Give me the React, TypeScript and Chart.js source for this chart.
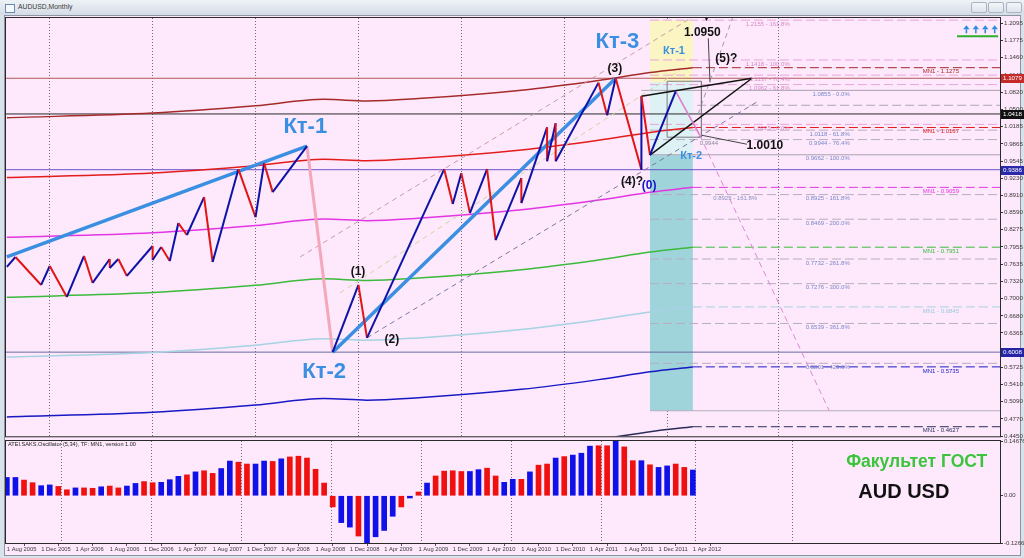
import React, { useEffect, useRef } from "react";
import { Chart, registerables } from "chart.js";
Chart.register(...registerables);

// ---------------- data ----------------
const labelMonths = [0, 4, 8, 12, 16, 20, 24, 28, 32, 36, 40, 44, 48, 52, 56, 60, 64, 68, 72, 76, 80];
const monthLabels = ["1 Aug 2005", "1 Dec 2005", "1 Apr 2006", "1 Aug 2006", "1 Dec 2006", "1 Apr 2007", "1 Aug 2007", "1 Dec 2007", "1 Apr 2008", "1 Aug 2008", "1 Dec 2008", "1 Apr 2009", "1 Aug 2009", "1 Dec 2009", "1 Apr 2010", "1 Aug 2010", "1 Dec 2010", "1 Apr 2011", "1 Aug 2011", "1 Dec 2011", "1 Apr 2012"];
const gridMonths = [5, 17, 29, 41, 53, 65, 77, 90];
const priceTicks = [1.2095, 1.1775, 1.146, 1.114, 1.082, 1.05, 1.0185, 0.9865, 0.9545, 0.923, 0.891, 0.859, 0.8275, 0.7955, 0.7635, 0.732, 0.7, 0.668, 0.6365, 0.5725, 0.541, 0.509, 0.477, 0.445];
const markedPrices = [1.1079, 1.0418, 0.9386, 0.6008];

// zigzag (month index from Aug 2005, price)
const zig1Months = [0, 1, 4, 5, 7, 9, 10, 12, 12, 13, 14, 17, 17, 18, 19, 20, 21, 23, 24, 27, 29, 30, 31, 35];
const zig1Prices = [0.7585, 0.777, 0.7252, 0.7603, 0.703, 0.7788, 0.7289, 0.7733, 0.7567, 0.7733, 0.7419, 0.7973, 0.7714, 0.7955, 0.7696, 0.8398, 0.8177, 0.8879, 0.7677, 0.9396, 0.8509, 0.9507, 0.8971, 0.9821];
const zig2Months = [38, 41, 42, 51, 52, 53, 54, 56, 57, 60, 60, 63, 63, 64, 64, 69, 70, 71, 74, 74, 75, 78];
const zig2Prices = [0.6008, 0.7252, 0.6273, 0.9396, 0.8749, 0.9322, 0.8583, 0.9396, 0.8084, 0.923, 0.8768, 1.0173, 0.9544, 1.0247, 0.9544, 1.0998, 1.0394, 1.1079, 0.9386, 1.0746, 0.9655, 1.0838];

// wave lines
const kt1Months = [0, 35];
const kt1Prices = [0.777, 0.9821];
const kt3Months = [38, 71];
const kt3Prices = [0.6008, 1.1079];
const pinkMonths = [35, 38];
const pinkPrices = [0.9821, 0.6008];
const projMonths = [78, 80.8];
const projPrices = [1.0838, 1.0025];
const projDashMonths = [80.8, 95.9];
const projDashPrices = [1.0025, 0.4923];
const triTopMonths = [74, 86.9];
const triTopPrices = [1.0746, 1.1079];
const triBotMonths = [75, 86.9];
const triBotPrices = [0.9655, 1.1079];
const boxMonths = [77, 81, 81, 77, 77];
const boxPrices = [1.1024, 1.1024, 0.9988, 0.9988, 1.1024];
const call1Months = [81.8, 82.0];
const call1Prices = [1.1818, 1.1004];
const call2Months = [81.0, 86.3];
const call2Prices = [1.0025, 0.9858];
const chan1Months = [34.2, 79.7];
const chan1Prices = [0.777, 1.2188];
const chan2Months = [38.85, 78.5];
const chan2Prices = [0.7104, 1.1226];
const chan3Months = [42, 87.8];
const chan3Prices = [0.6273, 1.0672];
const chan4Months = [80.6, 84.7];
const chan4Prices = [1.0413, 1.2225];
const greenMarkMonths = [110.8, 115.6];
const greenMarkPrices = [1.1855, 1.1855];
const arrowMonths = [111.9, 113.0, 114.1, 115.2];
const arrowPrice = 1.1985;

// MA envelope (centre line + fixed offset)
const maMonths = [0, 17, 29, 37, 42, 48, 60, 69, 75, 80];
const maCenter = [0.7025, 0.711, 0.7245, 0.7365, 0.7335, 0.738, 0.7535, 0.7715, 0.786, 0.7951];
const envelopeOffset = 0.1108;
const envelopeSteps = [3, 2, 1, 0, -1, -2, -3];
const mnValues = [1.1275, 1.0167, 0.9059, 0.7951, 0.6845, 0.5735, 0.4627];

// fibonacci levels
const fibBlueSolid = [1.0855, 0.9662];
const fibBlueSolidPct = ["0.0", "100.0"];
const fibBlueDash = [1.0118, 0.9944, 0.8925, 0.8469, 0.7732, 0.7276, 0.6539, 0.5801];
const fibBlueDashPct = ["61.8", "76.4", "161.8", "200.0", "261.8", "300.0", "361.8", "423.6"];
const fibPink = [1.2155, 1.1418, 1.1137, 1.0962, 1.0225];
const fibPinkPct = ["161.8", "100.0", "76.4", "61.8", "0.0"];
const extraDash = [1.0579];
const boxBottomLevel = 0.4923;

// shaded zones
const zoneMonths = [75, 80];
const zoneYellow = [1.2155, 1.1004];
const zoneCyan = [1.1004, 0.9655];
const zoneTeal = [0.9655, 0.4923];

// oscillator
const indValues = [0.049, 0.049, 0.042, 0.035, 0.027, 0.029, 0.025, 0.016, 0.021, 0.021, 0.02, 0.024, 0.026, 0.021, 0.026, 0.033, 0.038, 0.035, 0.036, 0.043, 0.052, 0.056, 0.064, 0.067, 0.06, 0.073, 0.093, 0.09, 0.085, 0.085, 0.093, 0.092, 0.099, 0.104, 0.106, 0.101, 0.071, 0.034, -0.03, -0.072, -0.084, -0.108, -0.1266, -0.11, -0.093, -0.055, -0.03, -0.006, 0.01, 0.034, 0.053, 0.066, 0.067, 0.065, 0.065, 0.07, 0.074, 0.053, 0.036, 0.044, 0.044, 0.064, 0.082, 0.085, 0.101, 0.105, 0.109, 0.114, 0.133, 0.134, 0.134, 0.1467, 0.131, 0.094, 0.094, 0.083, 0.076, 0.08, 0.085, 0.076, 0.069];
const indColors = "BBRRBBRRBRRBRRBBRRBBBRBRRBBRRBBRBRRRRRRBBRBBBBRBRBRRRRBBRRBBRBRRBRBBBRRBRRBRBBRRB";
const indTicks = [-0.12665, 0, 0.14676];

// ---------------- styles ----------------
const X_MIN = -0.1;
const X_MAX = X_MIN + 994 / 8.575;
const Y_MIN = 0.445;
const Y_MAX = 0.445 + 419 / 541;
const PINK_BG = "#fde9fb";
const BLUE = "#0c12a8";
const RED = "#e21414";
const KT = "#3b8fe2";
const envColors = ["#a52a2a", "#e41c1c", "#e236e2", "#3cba3c", "#a6d2e2", "#1818c4", "#2c2c5a"];
const FONT = '"Liberation Sans", Arial, sans-serif';
const F = (s: number, b = false) => `${b ? "bold " : ""}${s}px ${FONT}`;

const pts = (ms: number[], ps: number[]) => ms.map((m, i) => ({ x: m, y: ps[i] }));

type Note = { t: string; m: number; p: number; c: string; f: string; a?: CanvasTextAlign; b?: CanvasTextBaseline };

const mainNotes: Note[] = [
  { t: "Кт-1", m: 34.8, p: 1.0173, c: KT, f: F(22, true) },
  { t: "Кт-2", m: 37.0, p: 0.5644, c: KT, f: F(22, true) },
  { t: "Кт-3", m: 71.2, p: 1.1744, c: KT, f: F(22, true) },
  { t: "Кт-1", m: 77.8, p: 1.1577, c: KT, f: F(11, true) },
  { t: "Кт-2", m: 79.8, p: 0.9637, c: KT, f: F(11, true) },
  { t: "(3)", m: 70.9, p: 1.1263, c: "#111", f: F(12, true) },
  { t: "(4)?", m: 72.9, p: 0.9156, c: "#111", f: F(12, true) },
  { t: "(0)", m: 74.9, p: 0.9082, c: "#1414c8", f: F(12, true) },
  { t: "(1)", m: 40.95, p: 0.7493, c: "#111", f: F(12, true) },
  { t: "(2)", m: 44.9, p: 0.6236, c: "#111", f: F(12, true) },
  { t: "1.0950", m: 81.1, p: 1.1929, c: "#111", f: F(12, true) },
  { t: "(5)?", m: 83.9, p: 1.1448, c: "#111", f: F(12, true) },
  { t: "1.0010", m: 88.4, p: 0.9822, c: "#111", f: F(12, true) },
  { t: "0.9944", m: 80.8, p: 0.9877, c: "#8a8aa0", f: F(6), a: "left" },
  { t: "0.8925 - 161.8%", m: 87.5, p: 0.8925, c: "#8890c0", f: F(6), a: "right", b: "top" },
  { t: "▼", m: 81.6, p: 1.2172, c: "#111", f: F(7) },
];

function App() {
  const mainRef = useRef<HTMLCanvasElement>(null);
  const indRef = useRef<HTMLCanvasElement>(null);

  useEffect(() => {
    const line = (data: any[], color: string, width: number, order: number, dash: number[] = []) => ({
      type: "line" as const,
      data,
      borderColor: color,
      borderWidth: width,
      borderDash: dash,
      pointRadius: 0,
      fill: false,
      tension: 0,
      order,
    });
    const hline = (p: number, from: number, color: string, width: number, order: number, dash: number[] = []) =>
      line([{ x: from, y: p }, { x: X_MAX, y: p }], color, width, order, dash);

    const datasets: any[] = [];
    const zig = (ms: number[], ps: number[]) => ({
      ...line(pts(ms, ps), BLUE, 2, 1),
      segment: { borderColor: (c: any) => (c.p1.parsed.y >= c.p0.parsed.y ? BLUE : RED) },
    });
    datasets.push(zig(zig1Months, zig1Prices), zig(zig2Months, zig2Prices));
    datasets.push(line(pts(kt1Months, kt1Prices), KT, 3.5, 2));
    datasets.push(line(pts(kt3Months, kt3Prices), KT, 3.5, 2));
    datasets.push(line(pts(pinkMonths, pinkPrices), "#f4a6ba", 3, 2));
    datasets.push(line(pts(projMonths, projPrices), "#e07ccc", 1.6, 2));
    datasets.push(line(pts(projDashMonths, projDashPrices), "#d88ad2", 1, 3, [6, 4]));
    datasets.push(line(pts(triTopMonths, triTopPrices), "#111", 1.5, 2));
    datasets.push(line(pts(triBotMonths, triBotPrices), "#111", 1.5, 2));
    datasets.push(line(pts(boxMonths, boxPrices), "#7c7c84", 1, 3));
    datasets.push(line(pts(call1Months, call1Prices), "#444", 1, 3));
    datasets.push(line(pts(call2Months, call2Prices), "#444", 1, 3));
    datasets.push(line(pts(chan1Months, chan1Prices), "#c89aa0", 1, 4, [5, 4]));
    datasets.push(line(pts(chan2Months, chan2Prices), "#cdd49c", 1, 4, [5, 4]));
    datasets.push(line(pts(chan3Months, chan3Prices), "#7878a0", 1, 4, [5, 4]));
    datasets.push(line(pts(chan4Months, chan4Prices), "#9a9aa8", 1, 4, [5, 4]));
    envelopeSteps.forEach((k, i) => {
      const ds: any = line(
        maMonths.map((m, j) => ({ x: m, y: maCenter[j] + k * envelopeOffset })),
        envColors[i],
        1.5,
        5
      );
      ds.tension = 0.35;
      ds.cubicInterpolationMode = "monotone";
      datasets.push(ds);
      datasets.push(hline(mnValues[i], maMonths[maMonths.length - 1], envColors[i], 1, 6, [9, 4]));
    });
    const markColors = ["#b25a5a", "#2a2a2a", "#6a52c8", "#6a6aa0"];
    markedPrices.forEach((p, i) => datasets.push(hline(p, X_MIN, markColors[i], 1, 7)));
    datasets.push(hline(fibBlueSolid[0], 74, "#a8a2b2", 1, 8));
    datasets.push(hline(fibBlueSolid[1], 75, "#a8a2b2", 1, 8));
    datasets.push(hline(boxBottomLevel, 75, "#b4aebc", 1, 8));
    fibBlueDash.forEach((p) => datasets.push(hline(p, 75, "#b6aebe", 1, 9, [9, 4])));
    fibPink.forEach((p) => datasets.push(hline(p, 75, "#e6a6d8", 1, 9, [9, 4])));
    extraDash.forEach((p) => datasets.push(hline(p, 80.5, "#aca6b6", 1, 9, [9, 4])));
    datasets.push(line(pts(greenMarkMonths, greenMarkPrices), "#2cb02c", 2, 1));

    const notesMain: Note[] = [...mainNotes];
    mnValues.forEach((v, i) =>
      notesMain.push({ t: `MN1 - ${v.toFixed(4)}`, m: 106.8, p: v, c: envColors[i] === "#a6d2e2" ? "#9cc8dc" : envColors[i], f: F(6), a: "left", b: "top" })
    );
    fibBlueSolid.forEach((v, i) => notesMain.push({ t: `${v.toFixed(4)} - ${fibBlueSolidPct[i]}%`, m: 98.3, p: v, c: "#7a88c8", f: F(6), a: "right", b: "top" }));
    fibBlueDash.forEach((v, i) => notesMain.push({ t: `${v.toFixed(4)} - ${fibBlueDashPct[i]}%`, m: 98.3, p: v, c: "#7a88c8", f: F(6), a: "right", b: "top" }));
    fibPink.forEach((v, i) => notesMain.push({ t: `${v.toFixed(4)} - ${fibPinkPct[i]}%`, m: 91.3, p: v, c: "#d88ac8", f: F(6), a: "right", b: "top" }));

    const zones = [
      { y: zoneYellow, c: "#fbf5c4" },
      { y: zoneCyan, c: "#def1f5" },
      { y: zoneTeal, c: "#9fd5da" },
    ];

    const mainPlugin = {
      id: "mainDeco",
      beforeDatasetsDraw(chart: any) {
        const { ctx, scales } = chart;
        const x = scales.x, y = scales.y;
        ctx.save();
        zones.forEach((z) => {
          const x0 = x.getPixelForValue(zoneMonths[0]);
          const x1 = x.getPixelForValue(zoneMonths[1]);
          const y0 = y.getPixelForValue(z.y[0]);
          const y1 = y.getPixelForValue(z.y[1]);
          ctx.fillStyle = z.c;
          ctx.fillRect(x0, y0, x1 - x0, y1 - y0);
        });
        ctx.restore();
      },
      afterDatasetsDraw(chart: any) {
        const { ctx, scales, chartArea } = chart;
        const x = scales.x, y = scales.y;
        ctx.save();
        ctx.beginPath();
        ctx.rect(chartArea.left, chartArea.top, chartArea.right - chartArea.left, chartArea.bottom - chartArea.top);
        ctx.clip();
        notesMain.forEach((n) => {
          ctx.font = n.f;
          ctx.fillStyle = n.c;
          ctx.textAlign = n.a || "center";
          ctx.textBaseline = n.b || "middle";
          ctx.fillText(n.t, x.getPixelForValue(n.m), y.getPixelForValue(n.p) + (n.b === "top" ? 1 : 0));
        });
        // up arrows above the green mark
        ctx.fillStyle = "#2a8ce0";
        ctx.strokeStyle = "#2a8ce0";
        ctx.lineWidth = 1.6;
        arrowMonths.forEach((m) => {
          const ax = x.getPixelForValue(m);
          const ay = y.getPixelForValue(arrowPrice);
          ctx.beginPath();
          ctx.moveTo(ax, ay - 4);
          ctx.lineTo(ax - 3.2, ay);
          ctx.lineTo(ax + 3.2, ay);
          ctx.closePath();
          ctx.fill();
          ctx.beginPath();
          ctx.moveTo(ax, ay);
          ctx.lineTo(ax, ay + 4);
          ctx.stroke();
        });
        ctx.restore();
      },
      afterDraw(chart: any) {
        const { ctx, scales, chartArea } = chart;
        const y = scales.y;
        ctx.save();
        ctx.strokeStyle = "#2a2a2a";
        ctx.lineWidth = 1;
        ctx.strokeRect(chartArea.left - 0.5, chartArea.top - 0.5, chartArea.right - chartArea.left + 1, chartArea.bottom - chartArea.top + 1);
        const bgs = ["#c42a2a", "#111111", "#2a2aa8", "#2424a4"];
        markedPrices.forEach((p, i) => {
          const py = Math.round(y.getPixelForValue(p));
          ctx.fillStyle = bgs[i];
          ctx.fillRect(chartArea.right + 1, py - 4, 23, 9);
          ctx.fillStyle = "#ffffff";
          ctx.font = F(6.2);
          ctx.textAlign = "left";
          ctx.textBaseline = "middle";
          ctx.fillText(p.toFixed(4), chartArea.right + 3, py + 0.5);
        });
        ctx.restore();
      },
    };

    const main = new Chart(mainRef.current as HTMLCanvasElement, {
      type: "line",
      data: { datasets },
      options: {
        animation: false,
        responsive: false,
        events: [],
        layout: { padding: { left: 6, right: 0, top: 18, bottom: 4 } },
        plugins: { legend: { display: false }, tooltip: { enabled: false } },
        scales: {
          x: {
            type: "linear",
            min: X_MIN,
            max: X_MAX,
            afterBuildTicks: (s: any) => {
              s.ticks = gridMonths.map((v) => ({ value: v }));
            },
            afterFit: (s: any) => {
              s.height = 0;
            },
            ticks: { display: false, autoSkip: false },
            grid: { color: "#6e6e6e", drawTicks: false, lineWidth: 1 },
            border: { display: false, dash: [1, 2] },
          },
          y: {
            type: "linear",
            position: "right",
            min: Y_MIN,
            max: Y_MAX,
            afterBuildTicks: (s: any) => {
              s.ticks = priceTicks.map((v) => ({ value: v }));
            },
            afterFit: (s: any) => {
              s.width = 24;
            },
            ticks: {
              autoSkip: false,
              padding: 1,
              color: "#3a3a3a",
              font: { family: FONT, size: 6.2 },
              callback: (v: any) => Number(v).toFixed(4),
            },
            grid: { drawOnChartArea: false, drawTicks: true, tickLength: 3, color: "#333" },
            border: { display: true, color: "#111" },
          },
        },
      } as any,
      plugins: [mainPlugin],
    });

    const indPlugin = {
      id: "indDeco",
      afterDatasetsDraw(chart: any) {
        const { ctx, scales, chartArea } = chart;
        const x = scales.x, y = scales.y;
        ctx.save();
        ctx.fillStyle = "#222";
        ctx.font = F(5.6);
        ctx.textAlign = "left";
        ctx.textBaseline = "top";
        ctx.fillText("ATEI.SAKS.Oscillator (5,34), TF: MN1, version 1.00", chartArea.left + 2, chartArea.top + 1);
        ctx.textAlign = "center";
        ctx.textBaseline = "middle";
        ctx.font = F(17.5, true);
        ctx.fillStyle = "#3cc43c";
        ctx.fillText("Факультет ГОСТ", x.getPixelForValue(106.1), y.getPixelForValue(0.0898));
        ctx.font = F(20, true);
        ctx.fillStyle = "#111";
        ctx.fillText("AUD USD", x.getPixelForValue(104.6), y.getPixelForValue(0.0094));
        ctx.strokeStyle = "#2a2a2a";
        ctx.lineWidth = 1;
        ctx.strokeRect(chartArea.left - 0.5, chartArea.top - 0.5, chartArea.right - chartArea.left + 1, chartArea.bottom - chartArea.top + 1);
        ctx.restore();
      },
    };

    const ind = new Chart(indRef.current as HTMLCanvasElement, {
      type: "bar",
      data: {
        datasets: [
          {
            data: indValues.map((v, i) => ({ x: i, y: v })),
            backgroundColor: indValues.map((_, i) => (indColors[i] === "B" ? "#1010e8" : "#f01010")),
            barThickness: 5,
            borderWidth: 0,
          },
        ],
      },
      options: {
        animation: false,
        responsive: false,
        events: [],
        layout: { padding: { left: 6, right: 0, top: 11, bottom: 0 } },
        plugins: { legend: { display: false }, tooltip: { enabled: false } },
        scales: {
          x: {
            type: "linear",
            min: X_MIN,
            max: X_MAX,
            offset: false,
            afterBuildTicks: (s: any) => {
              s.ticks = labelMonths.map((v) => ({ value: v }));
            },
            afterFit: (s: any) => {
              s.height = 15;
            },
            ticks: {
              autoSkip: false,
              maxRotation: 0,
              align: "start",
              padding: 0,
              color: "#3a3a3a",
              font: { family: FONT, size: 5.8 },
              callback: (v: any) => monthLabels[labelMonths.indexOf(Number(v))] ?? "",
            },
            grid: { drawOnChartArea: false, drawTicks: true, tickLength: 3, color: "#555" },
            border: { display: false },
          },
          x2: {
            type: "linear",
            position: "bottom",
            min: X_MIN,
            max: X_MAX,
            afterBuildTicks: (s: any) => {
              s.ticks = gridMonths.map((v) => ({ value: v }));
            },
            afterFit: (s: any) => {
              s.height = 0;
            },
            ticks: { display: false },
            grid: { color: "#6e6e6e", drawTicks: false, lineWidth: 1 },
            border: { display: false, dash: [1, 2] },
          },
          y: {
            type: "linear",
            position: "right",
            min: indTicks[0],
            max: indTicks[2],
            afterBuildTicks: (s: any) => {
              s.ticks = indTicks.map((v) => ({ value: v }));
            },
            afterFit: (s: any) => {
              s.width = 24;
            },
            ticks: {
              autoSkip: false,
              padding: 1,
              color: "#3a3a3a",
              font: { family: FONT, size: 6 },
              callback: (v: any) => (Number(v) === 0 ? "0.00" : Number(v).toFixed(5)),
            },
            grid: { drawOnChartArea: false, drawTicks: true, tickLength: 3, color: "#333" },
            border: { display: true, color: "#111" },
          },
        },
      } as any,
      plugins: [indPlugin],
    });

    return () => {
      main.destroy();
      ind.destroy();
    };
  }, []);

  return (
    <div style={{ position: "fixed", left: 0, top: 0, width: 1024, height: 558, background: "#d9e1ea", overflow: "hidden" }}>
      <div style={{ position: "absolute", left: 0, top: 0, width: 1024, height: 15, background: "linear-gradient(#eef2f6,#d4dce6)" }} />
      <div style={{ position: "absolute", left: 5, top: 4, width: 8, height: 7, border: "1px solid #6a8ab0", background: "#f4f8fc" }} />
      <div style={{ position: "absolute", left: 18, top: 2, font: `6.8px ${FONT}`, color: "#3a3a3a", lineHeight: "10px" }}>AUDUSD,Monthly</div>
      {[971, 988, 1006].map((l) => (
        <div key={l} style={{ position: "absolute", left: l, top: 2, width: 14, height: 9, border: "1px solid #a8b4c4", borderRadius: 2, background: "linear-gradient(#f2f5f8,#dfe5ec)" }} />
      ))}
      <div style={{ position: "absolute", left: 4, top: 15, width: 1017, height: 541, background: PINK_BG, border: "1px solid #8a94a2", boxSizing: "border-box" }} />
      <canvas ref={mainRef} width={1024} height={441} style={{ position: "absolute", left: 0, top: 0, width: 1024, height: 441 }} />
      <canvas ref={indRef} width={1024} height={128} style={{ position: "absolute", left: 0, top: 430, width: 1024, height: 128 }} />
    </div>
  );
}

export default App;
